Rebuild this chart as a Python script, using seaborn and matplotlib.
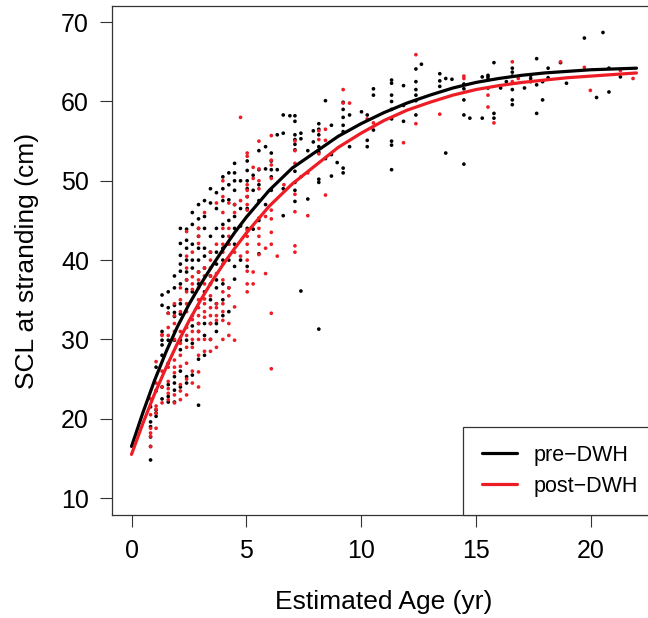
import matplotlib
matplotlib.use("Agg")
import matplotlib.pyplot as plt
import numpy as np
import pandas as pd
import seaborn as sns

# stranded turtles, pre-DWH (black points)
pre_col_age = [0.83, 1.07, 1.33, 1.60, 1.87, 2.13, 2.40, 2.65, 2.92, 3.18, 3.44, 3.70, 3.98, 4.24,
               4.49, 4.75, 5.04, 5.30, 5.55, 5.84, 6.09, 6.35, 6.61, 6.90, 7.12, 7.38, 7.68, 7.92,
               8.16, 8.45, 8.71, 8.96, 9.22, 9.50, 10.02, 10.27, 10.54, 11.33, 11.85, 12.39, 12.63,
               13.43, 13.69, 13.96, 14.48, 14.74, 15.28, 15.53, 15.79, 16.08, 16.33, 16.59, 17.12,
               17.39, 17.65, 17.91, 18.15, 18.69, 18.95, 19.73, 20.26, 20.54, 20.80, 21.30]
pre_col_scl = [
    [14.8, 16.5, 17.7, 19.0, 19.6, 21.5],
    [20.3, 20.7, 21.1, 23.5, 26.5],
    [22.5, 24.0, 28.0, 29.3, 29.9, 31.0, 34.3, 35.6],
    [22.1, 22.8, 24.3, 27.0, 29.9, 33.3, 34.0, 36.0],
    [22.1, 23.6, 24.5, 25.3, 29.9, 32.9, 33.4, 34.3, 36.5, 38.0],
    [24.0, 26.0, 28.7, 29.9, 33.2, 34.5, 37.0, 38.6, 39.5, 40.6, 42.1, 44.0],
    [24.5, 25.3, 29.9, 36.3, 37.5, 38.5, 40.0, 41.5, 42.5, 43.9],
    [25.5, 29.5, 31.7, 36.0, 39.0, 40.0, 42.0, 44.5, 46.0],
    [21.7, 27.5, 31.0, 32.0, 37.0, 38.5, 40.0, 41.5, 43.0, 44.0, 45.2, 47.0],
    [28.0, 30.5, 32.0, 36.0, 39.0, 40.5, 41.5, 44.0, 45.5, 47.5],
    [30.0, 32.0, 35.0, 37.0, 38.0, 41.0, 43.0, 47.2, 49.0],
    [31.0, 32.0, 34.5, 36.5, 37.5, 39.5, 41.0, 44.0, 46.5, 48.5],
    [33.0, 35.0, 37.0, 40.0, 41.5, 43.0, 44.5, 47.5, 49.0, 50.5],
    [33.5, 36.5, 40.0, 42.0, 45.0, 47.6, 49.5, 51.0],
    [37.6, 39.2, 42.0, 44.0, 45.5, 47.0, 48.8, 50.0, 51.0, 52.2],
    [40.0, 44.3, 46.5, 50.0],
    [39.2, 44.0, 46.5, 48.0, 49.0, 50.0, 51.3, 52.5],
    [43.9, 48.8, 50.7],
    [40.8, 45.0, 47.5, 49.5, 51.4, 53.8],
    [47.0, 51.5, 54.3],
    [48.8, 50.5, 51.4, 52.5, 53.5],
    [51.4, 55.8],
    [45.6, 49.0, 56.0, 58.3],
    [58.2],
    [47.4, 48.8, 49.8, 51.2, 53.9, 54.6, 55.2, 55.8, 57.5, 58.2],
    [36.1, 55.3, 56.0],
    [47.7, 53.8],
    [54.9, 56.3],
    [31.3, 49.8, 50.2, 53.6, 54.3, 55.8, 56.5, 57.2],
    [52.8, 60.1],
    [50.6, 53.3, 57.0],
    [52.3],
    [51.0, 51.6, 56.2, 57.0, 58.0, 59.0, 59.9],
    [54.3, 58.3],
    [58.7],
    [54.3, 55.1, 58.3],
    [56.4, 60.8, 61.6],
    [51.4, 54.5, 55.0, 57.8, 59.0, 60.0, 60.8, 62.3, 62.7],
    [57.5, 59.5, 62.0],
    [58.3, 60.1, 60.8, 61.5, 62.5, 64.1],
    [64.7],
    [61.9, 62.6, 63.5],
    [53.5, 62.9],
    [62.8],
    [52.1, 58.3, 60.2, 61.6, 62.2],
    [57.9],
    [57.9, 63.1],
    [61.7, 62.8, 63.1, 63.3],
    [57.9, 58.5, 64.9],
    [61.7],
    [62.5],
    [59.6, 60.2, 61.5, 63.2, 63.7, 64.2],
    [61.7],
    [62.5, 62.9, 63.3],
    [58.5, 62.1, 65.4],
    [60.2, 62.5],
    [63.0, 64.2],
    [64.9],
    [62.3],
    [68.0],
    [60.5],
    [68.7],
    [61.2, 64.2],
    [63.1],
]

# stranded turtles, post-DWH (red points)
post_col_age = [0.83, 1.07, 1.33, 1.60, 1.87, 2.13, 2.40, 2.65, 2.92, 3.18, 3.44, 3.70, 3.98, 4.24,
                4.49, 4.75, 5.04, 5.30, 5.55, 5.84, 6.09, 6.35, 6.64, 7.12, 7.38, 7.68, 8.16, 8.45,
                9.22, 9.50, 10.27, 10.54, 11.85, 12.39, 13.43, 14.48, 15.53, 15.79, 16.59, 16.85,
                18.69, 19.73, 19.99, 21.30, 21.85]
post_col_scl = [
    [16.5, 17.8, 18.2, 18.8, 20.5, 22.5],
    [18.8, 20.7, 21.2, 21.6, 23.6, 24.5, 27.2],
    [22.0, 24.0, 26.0, 30.5, 30.6],
    [22.4, 23.2, 23.8, 24.7, 26.5, 30.5, 31.5, 33.3],
    [22.0, 23.0, 25.8, 26.5, 27.4, 30.0, 31.0, 32.0, 33.0, 34.5],
    [22.4, 23.5, 24.3, 26.6, 28.0, 29.5, 31.0, 33.5, 35.0, 36.5],
    [23.0, 25.0, 27.0, 29.0, 30.5, 31.5, 33.5, 34.5, 36.0, 37.5, 39.0, 40.5, 43.6],
    [24.5, 26.0, 29.0, 30.0, 31.0, 32.5, 33.0, 36.3, 37.0, 37.9, 41.0],
    [24.0, 25.9, 28.0, 30.0, 31.0, 32.0, 33.0, 34.0, 35.0, 36.5, 37.5, 38.5, 42.1, 43.0, 44.0],
    [28.5, 30.0, 32.8, 33.5, 34.5, 35.1, 37.0, 38.0, 39.0, 46.0],
    [28.5, 30.0, 32.0, 33.0, 34.0, 35.5, 38.0, 39.0, 40.0, 41.0],
    [29.0, 32.4, 33.0, 34.0, 34.5, 38.3, 42.0, 47.2],
    [30.0, 32.4, 33.5, 34.5, 36.0, 37.5, 39.5, 41.0, 42.0, 44.0, 46.0, 48.0, 50.0],
    [30.5, 32.0, 35.5, 36.5, 42.0, 43.0, 44.0, 47.2],
    [29.9, 34.1, 41.0, 46.0, 47.0],
    [40.5, 47.5, 58.0],
    [36.0, 37.0, 38.6, 40.0, 41.0, 42.0, 43.0, 43.8, 46.3, 47.0, 48.0, 48.8, 49.5, 53.1, 53.5],
    [37.0, 38.5, 50.3, 51.7],
    [40.7, 42.0, 43.0, 44.0, 45.3, 49.0, 50.0, 51.5, 55.0],
    [38.3, 41.5, 45.5],
    [26.3, 33.3, 42.0, 43.5, 45.2, 46.3, 50.3, 52.0, 52.6, 55.7],
    [40.5],
    [49.5],
    [41.0, 41.8, 46.1, 48.3, 52.2, 53.8, 55.0],
    [50.5],
    [45.6, 51.0],
    [53.4, 55.2, 56.3],
    [48.2, 55.1, 56.5],
    [59.8, 61.5],
    [59.8],
    [57.8],
    [57.3],
    [54.8],
    [57.2, 65.9],
    [58.4],
    [62.9, 63.2],
    [59.3, 60.8],
    [57.3],
    [62.5, 65.0],
    [62.9],
    [65.0],
    [64.3],
    [61.4],
    [63.9],
    [62.9],
]

# fitted growth curves
curve_age = [0, 0.5, 1, 1.5, 2, 2.5, 3, 3.5, 4, 4.5, 5, 6, 7, 8, 9, 10, 11, 12, 13, 14, 15, 16,
             17, 18, 19, 20, 21, 22]
pre_curve = [16.5, 20.8, 24.8, 28.4, 31.6, 34.4, 36.9, 39.2, 41.4, 43.5, 45.4, 48.8, 51.6, 53.6,
             55.6, 57.2, 58.6, 59.8, 60.8, 61.7, 62.4, 62.9, 63.3, 63.6, 63.8, 64.0, 64.1, 64.2]
post_curve = [15.5, 19.45, 23.1, 26.4, 29.5, 32.3, 34.9, 37.3, 39.5, 41.5, 43.4, 46.8, 49.6, 51.9,
              54.2, 56.0, 57.6, 58.9, 59.9, 60.8, 61.5, 62.0, 62.4, 62.7, 63.0, 63.2, 63.4, 63.6]

groups = ["pre\u2212DWH", "post\u2212DWH"]
colors = ["black", "#ee1c24"]

rows = []
for g, ages, vals in [(groups[0], pre_col_age, pre_col_scl), (groups[1], post_col_age, post_col_scl)]:
    for a, vs in zip(ages, vals):
        for v in vs:
            rows.append((g, a, v))
pts = pd.DataFrame(rows, columns=["group", "age", "scl"])

curves = pd.concat([
    pd.DataFrame({"group": groups[0], "age": curve_age, "scl": pre_curve}),
    pd.DataFrame({"group": groups[1], "age": curve_age, "scl": post_curve}),
])

sns.set_style("ticks")
plt.rcParams["font.family"] = ["Liberation Sans", "DejaVu Sans"]
plt.rcParams["text.color"] = "black"
plt.rcParams["axes.labelcolor"] = "black"
plt.rcParams["xtick.color"] = "black"
plt.rcParams["ytick.color"] = "black"

fig = plt.figure(figsize=(6.48, 6.18), dpi=100)
ax = fig.add_axes([112 / 648, 103 / 618, 544 / 648, 509 / 618])

palette = dict(zip(groups, colors))
sns.scatterplot(data=pts, x="age", y="scl", hue="group", palette=palette, s=7,
                linewidth=0, legend=False, ax=ax, zorder=2)
sns.lineplot(data=curves, x="age", y="scl", hue="group", palette=palette, linewidth=2.3,
             ax=ax, zorder=3)

ax.set_xlim(-0.85, 22.85)
ax.set_ylim(7.86, 72.04)
ax.set_xticks([0, 5, 10, 15, 20])
ax.set_yticks([10, 20, 30, 40, 50, 60, 70])
ax.tick_params(direction="out", length=8.5, width=0.8, labelsize=18, color="#333333",
               labelcolor="black")
ax.tick_params(axis="x", pad=9)
ax.tick_params(axis="y", pad=8)
for s in ax.spines.values():
    s.set_linewidth(0.9)
    s.set_color("#333333")

ax.set_xlabel("Estimated Age (yr)", fontsize=19, labelpad=19)
ax.set_ylabel("SCL at stranding (cm)", fontsize=19, labelpad=16)

leg = ax.legend(loc="lower right", frameon=True, fancybox=False, fontsize=15.5,
                borderaxespad=0, borderpad=0.85, handlelength=1.65, handletextpad=0.75,
                labelspacing=0.45, title=None)
leg.get_frame().set_edgecolor("#333333")
leg.get_frame().set_linewidth(0.9)
leg.get_frame().set_alpha(1)

fig.savefig("out.png", dpi=100, facecolor="white")
plt.close(fig)
